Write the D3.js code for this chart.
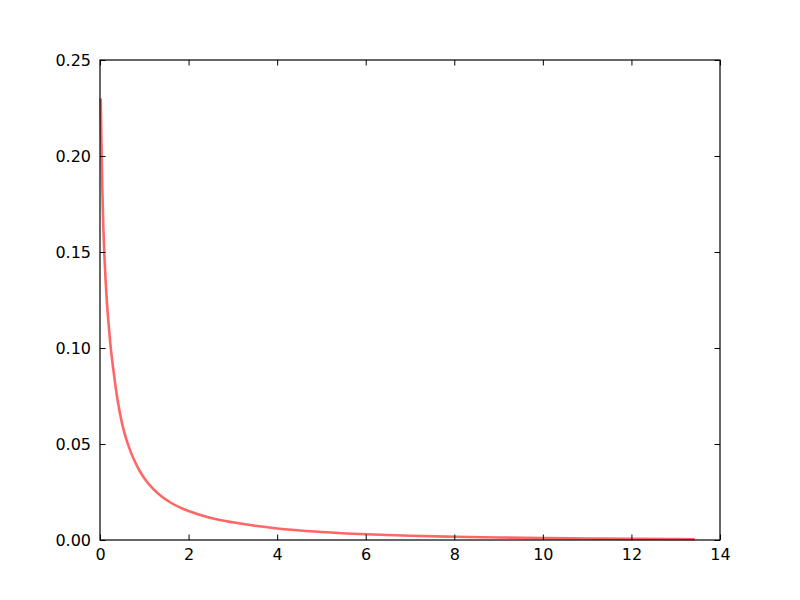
<!DOCTYPE html>
<html>
<head>
<meta charset="utf-8">
<script src="https://d3js.org/d3.v7.min.js"></script>
<style>
  body { margin: 0; background: #fff; }
  svg { display: block; }
  text { font-family: "DejaVu Sans", sans-serif; font-size: 16px; fill: #000; }
</style>
</head>
<body>
<svg id="chart" width="800" height="600"></svg>
<script>
// 曲线数据
var xValues = [0.016, 0.03, 0.05, 0.075, 0.1, 0.15, 0.2, 0.25, 0.3, 0.4, 0.5, 0.6, 0.7, 0.8, 0.9, 1.0,
  1.2, 1.4, 1.6, 1.8, 2.0, 2.5, 3.0, 3.5, 4.0, 5.0, 6.0, 7.0, 8.0, 9.0, 10, 11, 12, 13, 13.43]
var yValues = [0.230, 0.210, 0.185, 0.163, 0.148, 0.126, 0.111, 0.0985, 0.089, 0.0725, 0.0605, 0.052, 0.0455, 0.0402, 0.0358, 0.0322,
  0.0266, 0.0225, 0.0194, 0.0170, 0.0151, 0.0115, 0.0092, 0.0074, 0.0060, 0.0042, 0.0030, 0.0022, 0.0017, 0.0013, 0.0010, 0.0008, 0.0006, 0.0005, 0.0004]

// 刻度
var xTicks = [0, 2, 4, 6, 8, 10, 12, 14]
var yTicks = [0, 0.05, 0.10, 0.15, 0.20, 0.25]

// 绘图区（注意不要用 top 作全局变量名）
var plotLeft = 100, plotRight = 720, plotTop = 60, plotBottom = 540
var tickLen = 5.5

var svg = d3.select('#chart')

var x = d3.scaleLinear().domain([0, 14]).range([plotLeft, plotRight])
var y = d3.scaleLinear().domain([0, 0.25]).range([plotBottom, plotTop])

var points = xValues.map((v, i) => [v, yValues[i]])

// 曲线
var line = d3.line()
  .x((d) => x(d[0]))
  .y((d) => y(d[1]))
  .curve(d3.curveMonotoneX)

svg.append('path')
  .datum(points)
  .attr('d', line)
  .attr('fill', 'none')
  .attr('stroke', 'red')
  .attr('stroke-opacity', 0.6)
  .attr('stroke-width', 2.6)
  .attr('stroke-linejoin', 'round')

// 坐标轴（刻度朝内，四边都有）
var xBottom = d3.axisBottom(x).tickValues(xTicks).tickSizeInner(-tickLen).tickSizeOuter(0).tickPadding(9)
var xTop = d3.axisTop(x).tickValues(xTicks).tickSizeInner(-tickLen).tickSizeOuter(0).tickFormat('')
var yLeft = d3.axisLeft(y).tickValues(yTicks).tickSizeInner(-tickLen).tickSizeOuter(0).tickPadding(9)
  .tickFormat(d3.format('.2f'))
var yRight = d3.axisRight(y).tickValues(yTicks).tickSizeInner(-tickLen).tickSizeOuter(0).tickFormat('')

function styleAxis(g) {
  g.select('.domain').remove()
  g.selectAll('line').attr('stroke', '#000').attr('stroke-width', 1)
  g.selectAll('text').attr('font-family', '"DejaVu Sans", sans-serif').attr('font-size', 16).attr('fill', '#000')
}

svg.append('g').attr('transform', `translate(0,${plotBottom})`).call(xBottom).call(styleAxis)
svg.append('g').attr('transform', `translate(0,${plotTop})`).call(xTop).call(styleAxis)
svg.append('g').attr('transform', `translate(${plotLeft},0)`).call(yLeft).call(styleAxis)
svg.append('g').attr('transform', `translate(${plotRight},0)`).call(yRight).call(styleAxis)

// 边框
svg.append('rect')
  .attr('x', plotLeft)
  .attr('y', plotTop)
  .attr('width', plotRight - plotLeft)
  .attr('height', plotBottom - plotTop)
  .attr('fill', 'none')
  .attr('stroke', '#000')
  .attr('stroke-width', 1.2)
</script>
</body>
</html>
